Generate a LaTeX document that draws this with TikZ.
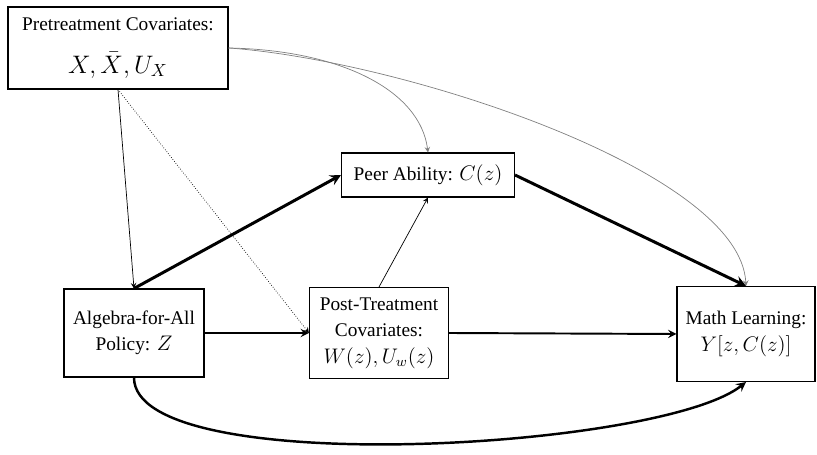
\documentclass[tikz,border=0pt]{standalone}
\usepackage{fontspec}
\setmainfont{Liberation Serif}
\usepackage{amsmath}
\usepackage{tikz}
\usetikzlibrary{arrows}
\tikzstyle{box} = [rectangle, draw=black, semithick, fill=white, text centered, align=center, inner sep=2pt, font=\fontsize{11}{15}\selectfont]
\tikzstyle{thinarrow} = [thin,->,>=stealth]
\tikzstyle{faintarrow} = [thin,gray,->,>=stealth]
\tikzstyle{dotarrow} = [thin,densely dotted,->,>=stealth]
\tikzstyle{midarrow} = [line width=1.1pt,->,>=stealth]
\tikzstyle{boldarrow} = [line width=1.7pt,->,>=stealth]

\begin{document}
\begin{tikzpicture}[x=0.02cm,y=-0.02cm]
    \useasboundingbox (0,0) rectangle (817,455);

    \node (pre) [box, minimum width=4.4cm, minimum height=1.64cm] at (118,48) {Pretreatment Covariates:\\[9pt] {\Large $X, \bar{X}, U_X$}};
    \node (peer) [box, minimum width=3.46cm, minimum height=0.88cm] at (428,175) {Peer Ability: {\large $C(z)$}};
    \node (alg) [box, minimum width=2.8cm, minimum height=1.76cm] at (134,333) {Algebra-for-All\\Policy: {\large $Z$}};
    \node (post) [box, minimum width=2.78cm, minimum height=1.82cm] at (379,333) {Post-Treatment\\Covariates:\\{\large $W(z), U_w(z)$}};
    \node (math) [box, minimum width=2.76cm, minimum height=1.9cm] at (746,334) {Math Learning:\\{\large $Y[z, C(z)]$}};

    \draw [thinarrow] (pre.south) -- (alg.north);
    \draw [dotarrow] (pre.south) -- (post.west);
    \draw [faintarrow] (pre.east) .. controls (340,50) and (420,90) .. (peer.north);
    \draw [faintarrow] (pre.east) .. controls (400,60) and (740,170) .. (math.north);
    \draw [boldarrow] (alg.north) -- (peer.west);
    \draw [thinarrow] (post.north) -- (peer.south);
    \draw [boldarrow] (peer.east) -- (math.north);
    \draw [midarrow] (alg.east) -- (post.west);
    \draw [midarrow] (post.east) -- (math.west);
    \draw [boldarrow, line width=1.4pt] (alg.south) .. controls (134,480) and (660,450) .. (math.south);
\end{tikzpicture}
\end{document}
